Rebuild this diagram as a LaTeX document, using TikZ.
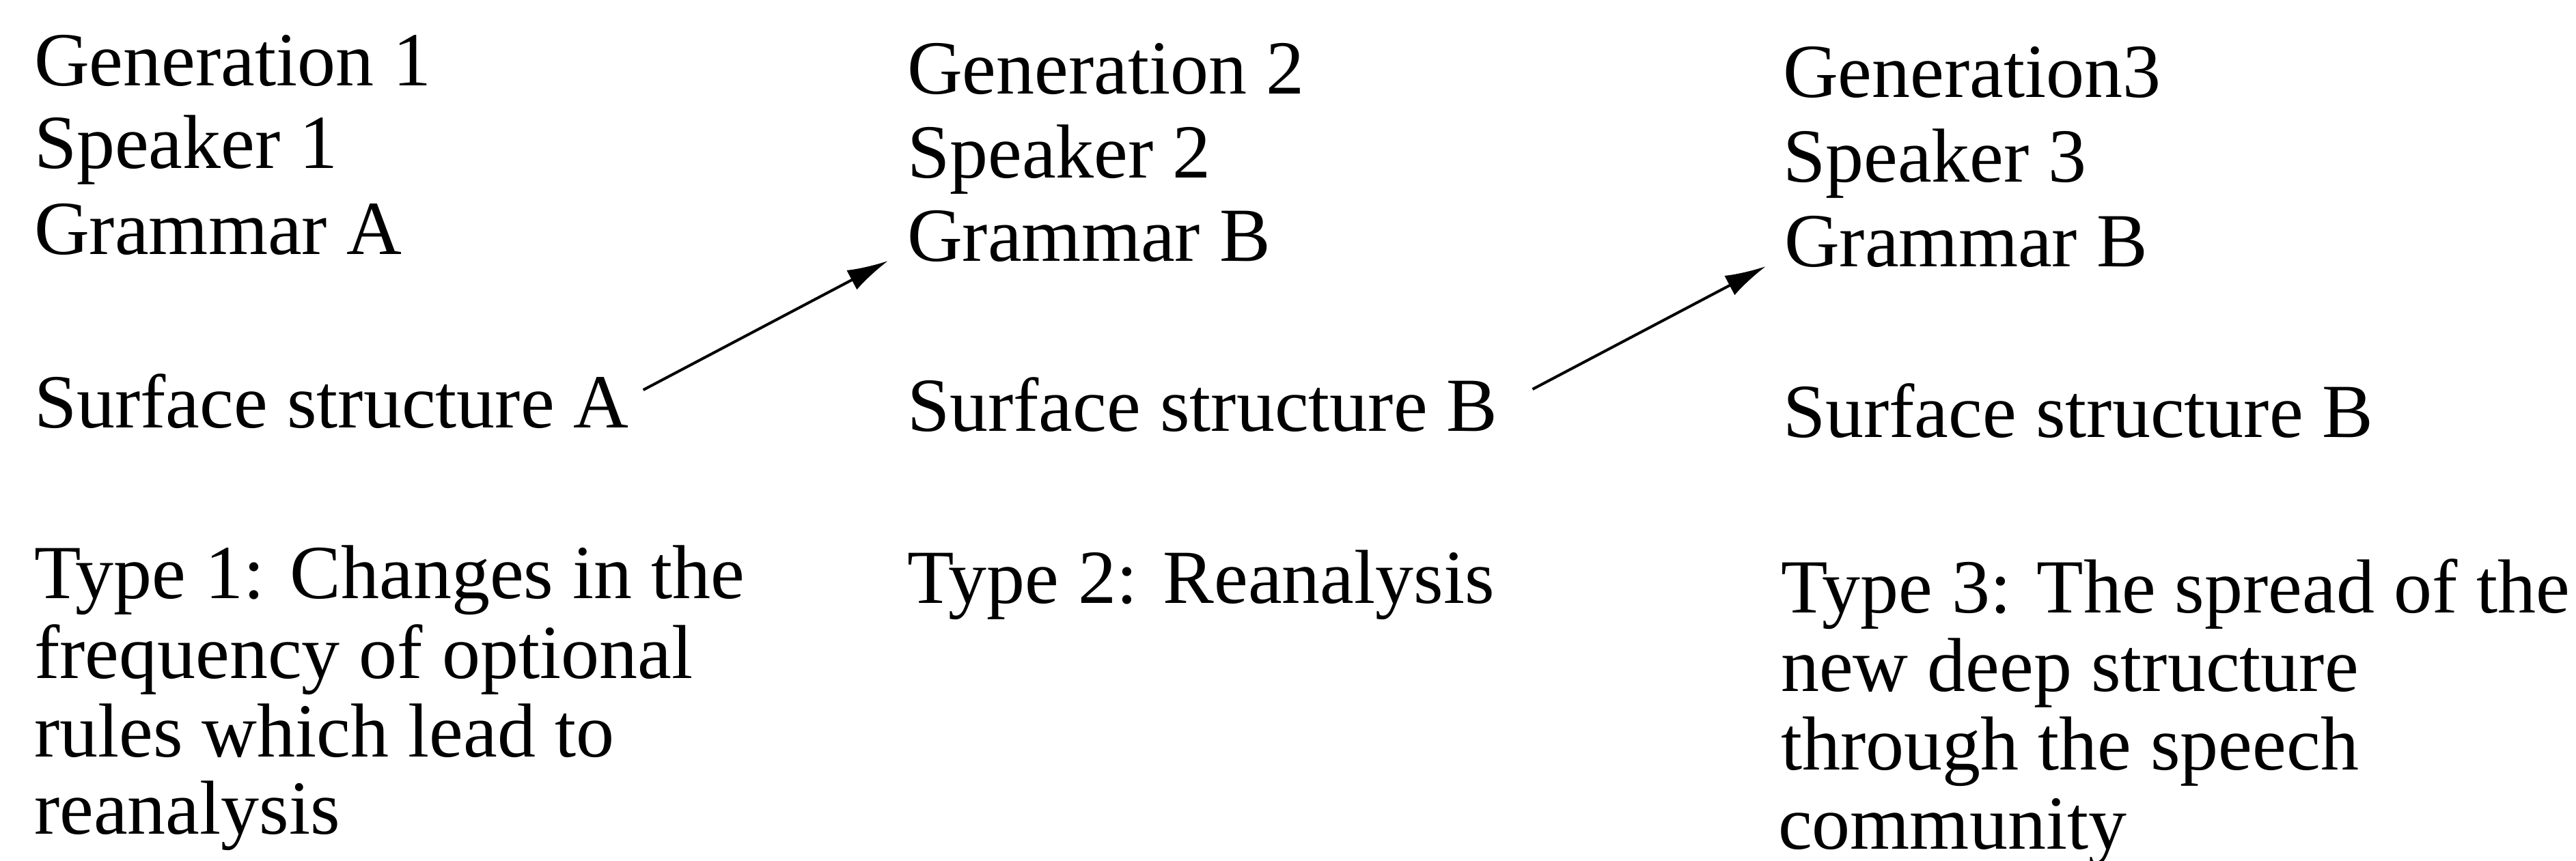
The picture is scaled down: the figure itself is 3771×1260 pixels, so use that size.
\documentclass[tikz,border=0pt]{standalone}
\usepackage{fontspec}
\setmainfont{Liberation Serif}
\usetikzlibrary{arrows.meta}
\begin{document}
\begin{tikzpicture}[x=0.1pt,y=-0.1pt,
  lbl/.style={anchor=base west,inner sep=0pt,outer sep=0pt,font=\fontsize{11.2}{12}\selectfont},
  arr/.style={-{Latex[length=6pt,width=3.2pt]},line width=0.4pt}]
\useasboundingbox (0,0) rectangle (3771,1260);
% column 1
\node[lbl] (gen1) at (50,125) {Generation 1};
\node[lbl] (spk1) at (50,246) {Speaker 1};
\node[lbl] (gra1) at (50,372) {Grammar A};
\node[lbl] (sur1) at (50,626) {Surface structure A};
\node[lbl] (ty1a) at (50,876) {Type 1: Changes in the};
\node[lbl] (ty1b) at (50,993) {frequency of optional};
\node[lbl] (ty1c) at (50,1108) {rules which lead to};
\node[lbl] (ty1d) at (50,1221) {reanalysis};
% column 2
\node[lbl] (gen2) at (1328,137) {Generation 2};
\node[lbl] (spk2) at (1328,260) {Speaker 2};
\node[lbl] (gra2) at (1328,382) {Grammar B};
\node[lbl] (sur2) at (1328,631) {Surface structure B};
\node[lbl] (ty2a) at (1328,883) {Type 2: Reanalysis};
% column 3
\node[lbl] (gen3) at (2610,142) {Generation3};
\node[lbl] (spk3) at (2610,266) {Speaker 3};
\node[lbl] (gra3) at (2612,390) {Grammar B};
\node[lbl] (sur3) at (2610,640) {Surface structure B};
\node[lbl] (ty3a) at (2607,897) {Type 3: The spread of the};
\node[lbl] (ty3b) at (2607,1012) {new deep structure};
\node[lbl] (ty3c) at (2607,1127) {through the speech};
\node[lbl] (ty3d) at (2603,1243) {community};
% arrows
\draw[arr] ([xshift=2.1pt,yshift=5.5pt]sur1.base east) -- ([xshift=-2.8pt]gra2.base west);
\draw[arr] ([xshift=5.1pt,yshift=6.1pt]sur2.base east) -- ([xshift=-2.7pt]gra3.base west);
\end{tikzpicture}
\end{document}
